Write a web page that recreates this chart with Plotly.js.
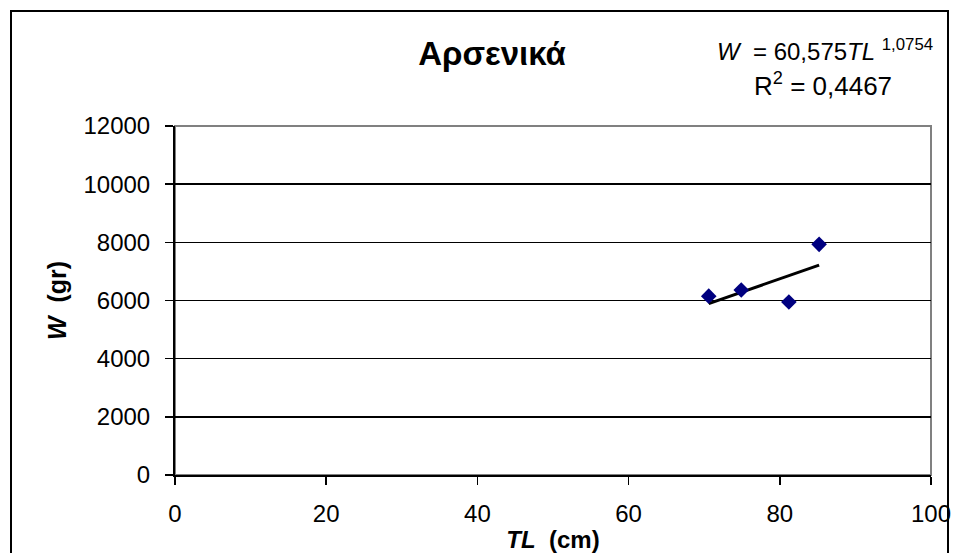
<!DOCTYPE html>
<html>
<head>
<meta charset="utf-8">
<script src="https://cdn.plot.ly/plotly-3.0.1.min.js"></script>
<style>
  html, body { margin: 0; padding: 0; background: #fff; }
  #chart { width: 957px; height: 553px; }
</style>
</head>
<body>
<div id="chart"></div>
<script>
// Total length (cm) and weight (gr) of the sampled males
const lengthTL = [70.6, 74.9, 81.2, 85.2];
const weightW = [6150, 6360, 5950, 7930];

// Power-law fit W = a * TL^b
const fitA = 60.575;
const fitB = 1.0754;
const fitR2 = 0.4467;

const xTicks = [0, 20, 40, 60, 80, 100];
const yTicks = [0, 2000, 4000, 6000, 8000, 10000, 12000];

// Trend curve sampled between the smallest and largest length
const tlMin = Math.min(...lengthTL);
const tlMax = Math.max(...lengthTL);
const fitX = [];
const fitY = [];
for (let i = 0; i <= 40; i++) {
  const t = tlMin + (tlMax - tlMin) * i / 40;
  fitX.push(t);
  fitY.push(fitA * Math.pow(t, fitB));
}

const fmt = v => String(v).replace('.', ',');

const font = 'Liberation Sans, Arial, sans-serif';

const traces = [
  {
    x: fitX, y: fitY, type: 'scatter', mode: 'lines',
    line: { color: '#000', width: 3 },
    hoverinfo: 'skip', showlegend: false
  },
  {
    x: lengthTL, y: weightW, type: 'scatter', mode: 'markers',
    marker: { symbol: 'diamond', size: 12, color: '#000080' },
    showlegend: false
  }
];

// plot area: left 175, right 931, top 126, bottom 475 (pixels)
const L = 175, R = 931, T = 126, B = 475;
const W = 957, H = 553;
const px = v => (v - L) / (R - L);
const py = v => (B - v) / (B - T);

const layout = {
  width: W, height: H,
  paper_bgcolor: '#fff', plot_bgcolor: '#fff',
  margin: { l: L, r: W - R, t: T, b: H - B, pad: 0, autoexpand: false },
  font: { family: font, size: 24, color: '#000' },
  title: {
    text: '<b>Αρσενικά</b>',
    font: { family: font, size: 33, color: '#000' },
    xref: 'container', yref: 'container',
    x: 492 / W, y: 1 - 53 / H, xanchor: 'center', yanchor: 'middle'
  },
  xaxis: {
    range: [0, 100], tickvals: xTicks, ticktext: xTicks.map(String),
    showgrid: false, zeroline: false,
    showline: true, linecolor: '#000', linewidth: 2,
    ticks: 'outside', ticklen: 8, tickwidth: 1.5, tickcolor: '#000',
    ticklabelstandoff: 8,
    tickfont: { family: font, size: 24, color: '#000' },
    title: {
      text: '<b><i>TL</i>  (cm)</b>', standoff: 6,
      font: { family: font, size: 24, color: '#000' }
    },
    automargin: false,
    fixedrange: true
  },
  yaxis: {
    range: [0, 12000], tickvals: yTicks, ticktext: yTicks.map(String),
    showgrid: true, gridcolor: '#000', gridwidth: 1.5,
    zeroline: false,
    showline: true, linecolor: '#000', linewidth: 2,
    ticks: 'outside', ticklen: 8, tickwidth: 1.5, tickcolor: '#000',
    ticklabelstandoff: 10,
    tickfont: { family: font, size: 24, color: '#000' },
    title: {
      text: '<b><i>W</i>  (gr)</b>', standoff: 10,
      font: { family: font, size: 25, color: '#000' }
    },
    automargin: false,
    fixedrange: true
  },
  shapes: [
    // plot area frame (top and right edges show in grey)
    {
      type: 'rect', xref: 'paper', yref: 'paper', x0: 0, x1: 1, y0: 0, y1: 1,
      line: { color: '#808080', width: 2 }, layer: 'below'
    },
    // outer chart frame
    {
      type: 'rect', xref: 'paper', yref: 'paper',
      x0: px(11), x1: px(948), y0: py(565), y1: py(11),
      line: { color: '#000', width: 2 }, layer: 'above'
    }
  ],
  annotations: [
    {
      xref: 'paper', yref: 'paper', x: px(825), y: py(50),
      xanchor: 'center', yanchor: 'middle', showarrow: false,
      text: '<i>W</i>  = ' + fmt(fitA) + '<i>TL</i> <sup>' + fmt(fitB) + '</sup>',
      font: { family: font, size: 24, color: '#000' }
    },
    {
      xref: 'paper', yref: 'paper', x: px(823), y: py(84),
      xanchor: 'center', yanchor: 'middle', showarrow: false,
      text: 'R<sup>2</sup> = ' + fmt(fitR2),
      font: { family: font, size: 26, color: '#000' }
    }
  ]
};

Plotly.newPlot('chart', traces, layout, { displayModeBar: false, staticPlot: true });
</script>
</body>
</html>
